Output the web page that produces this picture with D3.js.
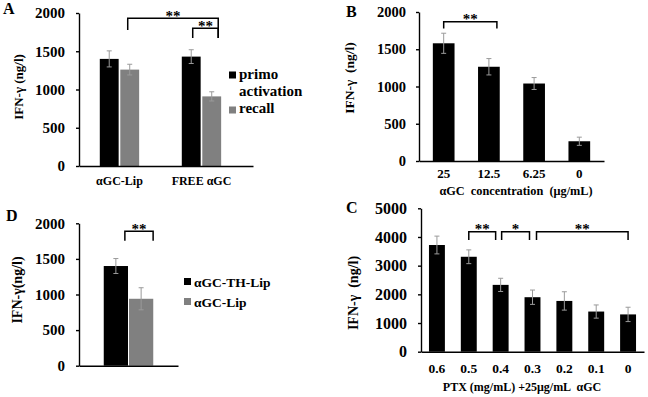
<!DOCTYPE html>
<html><head><meta charset="utf-8">
<script src="https://cdn.jsdelivr.net/npm/d3@7"></script>
<style>
body{margin:0;background:#fff}
svg{display:block}
text{font-family:'Liberation Serif','Times New Roman',serif;font-weight:bold;fill:#000}
</style>
</head><body>
<svg id="chart" width="648" height="397"></svg>
<script>
// ---------- data ----------
const aCategories = ["αGC-Lip", "FREE αGC"];
const aSeries = ["primo activation", "recall"];
const aPrimo = [1400, 1430];
const aPrimoErr = [105, 90];
const aRecall = [1260, 910];
const aRecallErr = [70, 60];

const bCategories = ["25", "12.5", "6.25", "0"];
const bValues = [1580, 1265, 1040, 265];
const bErr = [135, 110, 80, 55];

const cCategories = ["0.6", "0.5", "0.4", "0.3", "0.2", "0.1", "0"];
const cValues = [3720, 3310, 2330, 1900, 1770, 1400, 1300];
const cErr = [310, 240, 230, 250, 320, 230, 250];

const dCategories = ["αGC-TH-Lip", "αGC-Lip"];
const dValues = [1400, 940];
const dErr = [105, 155];

const yTicks2000 = [0, 500, 1000, 1500, 2000];
const yTicks5000 = [0, 1000, 2000, 3000, 4000, 5000];

// ---------- styles ----------
const BLACK = "#000000", GRAY = "#808080", ERR = "#9a9a9a";
const svg = d3.select("#chart");

function drawYAxis(g, y, ticks, fs, pad) {
  g.call(d3.axisLeft(y).tickValues(ticks).tickSize(3).tickPadding(pad)
    .tickSizeOuter(0).tickFormat(d3.format("d")));
  g.attr("font-size", fs).attr("font-family", null);
  g.select(".domain").attr("stroke", "#000").attr("stroke-width", 1.4);
  g.selectAll(".tick line").attr("stroke", "#000").attr("stroke-width", 1.4);
}
function drawXAxis(g, x, fs, off, showLabels) {
  g.call(d3.axisBottom(x).tickSize(0).tickSizeOuter(0));
  g.attr("font-size", fs).attr("font-family", null);
  g.select(".domain").attr("stroke", "#000").attr("stroke-width", 1.4);
  g.selectAll(".tick text").attr("y", off).attr("dy", 0);
  if (!showLabels) g.selectAll(".tick text").remove();
}
function errBar(g, cx, y, v, e, cap) {
  g.append("line").attr("x1", cx).attr("x2", cx).attr("y1", y(v - e)).attr("y2", y(v + e))
    .attr("stroke", ERR).attr("stroke-width", 1);
  [v - e, v + e].forEach(t => g.append("line").attr("x1", cx - cap).attr("x2", cx + cap)
    .attr("y1", y(t)).attr("y2", y(t)).attr("stroke", ERR).attr("stroke-width", 1));
}
function bracket(g, x1, x2, yTop, yL, yR, stars, sy, fs) {
  g.append("path").attr("d", `M${x1},${yL}V${yTop}H${x2}V${yR}`)
    .attr("fill", "none").attr("stroke", "#000").attr("stroke-width", 1.5);
  g.append("text").attr("x", (x1 + x2) / 2).attr("y", sy).attr("text-anchor", "middle")
    .attr("font-size", fs).text(stars);
}
function yTitle(g, x, y, fs, txt) {
  g.append("text").attr("transform", `translate(${x},${y}) rotate(-90)`)
    .attr("text-anchor", "middle").attr("font-size", fs).style("white-space", "pre").text(txt);
}
function letter(g, x, y, t) {
  g.append("text").attr("x", x).attr("y", y).attr("font-size", 16).text(t);
}

// ---------- Panel A ----------
{
  const g = svg.append("g");
  const x0 = d3.scaleBand().domain(aCategories).range([79, 253])
    .paddingInner(0.52).paddingOuter(0.321).align(0.395);
  const x1 = d3.scaleBand().domain(aSeries).range([0, x0.bandwidth()]).paddingInner(0.08);
  const y = d3.scaleLinear().domain([0, 2000]).range([166, 13]);
  const rows = aCategories.map((c, i) => [
    { c, s: aSeries[0], v: aPrimo[i], e: aPrimoErr[i], col: BLACK },
    { c, s: aSeries[1], v: aRecall[i], e: aRecallErr[i], col: GRAY }
  ]).flat();
  g.selectAll("rect.bar").data(rows).join("rect").attr("class", "bar")
    .attr("x", d => x0(d.c) + x1(d.s)).attr("width", x1.bandwidth())
    .attr("y", d => y(d.v)).attr("height", d => y(0) - y(d.v)).attr("fill", d => d.col);
  rows.forEach(d => errBar(g, x0(d.c) + x1(d.s) + x1.bandwidth() / 2, y, d.v, d.e, 2.5));
  drawXAxis(g.append("g").attr("transform", `translate(0,${y(0)})`), x0, 12, 19, true);
  drawYAxis(g.append("g").attr("transform", `translate(79,0)`), y, yTicks2000, 15, 11);
  yTitle(g, 23, 87, 13, "IFN-γ (ng/l)");
  letter(g, 3, 14, "A");
  const cen = (c, s) => x0(c) + x1(s) + x1.bandwidth() / 2;
  bracket(g, cen(aCategories[0], aSeries[1]) - 2, cen(aCategories[1], aSeries[1]) + 6.5, 18.3, 30, 38, "**", 21, 15);
  bracket(g, cen(aCategories[1], aSeries[0]) + 1.5, cen(aCategories[1], aSeries[1]) + 6.5, 28.3, 38, 38, "**", 31, 15);
  // legend
  const lg = g.append("g");
  const lys = [71.5, 106.5];
  aSeries.forEach((s, i) => {
    lg.append("rect").attr("x", 229).attr("y", lys[i]).attr("width", 7).attr("height", 7)
      .attr("fill", i === 0 ? BLACK : GRAY);
  });
  const t1 = lg.append("text").attr("x", 239).attr("y", 78.5).attr("font-size", 15);
  aSeries[0].split(" ").forEach((w, k) => t1.append("tspan").attr("x", 239).attr("dy", k ? 17 : 0).text(w));
  lg.append("text").attr("x", 239).attr("y", 113).attr("font-size", 15).text(aSeries[1]);
}

// ---------- Panel B ----------
{
  const g = svg.append("g");
  const x = d3.scaleBand().domain(bCategories).range([419, 604]).paddingInner(0.52).paddingOuter(0.306);
  const y = d3.scaleLinear().domain([0, 2000]).range([161, 12]);
  g.selectAll("rect").data(bCategories).join("rect")
    .attr("x", d => x(d)).attr("width", x.bandwidth())
    .attr("y", (d, i) => y(bValues[i])).attr("height", (d, i) => y(0) - y(bValues[i])).attr("fill", BLACK);
  bCategories.forEach((c, i) => errBar(g, x(c) + x.bandwidth() / 2, y, bValues[i], bErr[i], 2.5));
  drawXAxis(g.append("g").attr("transform", `translate(0,${y(0)})`), x, 13, 17, true);
  drawYAxis(g.append("g").attr("transform", `translate(419,0)`), y, yTicks2000, 14.5, 10);
  g.append("text").attr("x", 516).attr("y", 194.5).attr("text-anchor", "middle").attr("font-size", 12.3)
    .style("white-space", "pre").text("αGC  concentration  (μg/mL)");
  yTitle(g, 354, 78, 13.5, "IFN-γ  (ng/l)");
  letter(g, 346, 17, "B");
  const cen = c => x(c) + x.bandwidth() / 2;
  bracket(g, cen(bCategories[0]), cen(bCategories[1]) + 8, 21.7, 28.5, 28.5, "**", 24, 15);
}

// ---------- Panel C ----------
{
  const g = svg.append("g");
  const x = d3.scaleBand().domain(cCategories).range([421, 644]).paddingInner(0.5).paddingOuter(0.25);
  const y = d3.scaleLinear().domain([0, 5000]).range([351.7, 208.3]);
  g.selectAll("rect").data(cCategories).join("rect")
    .attr("x", d => x(d)).attr("width", x.bandwidth())
    .attr("y", (d, i) => y(cValues[i])).attr("height", (d, i) => y(0) - y(cValues[i])).attr("fill", BLACK);
  cCategories.forEach((c, i) => errBar(g, x(c) + x.bandwidth() / 2, y, cValues[i], cErr[i], 2.5));
  drawXAxis(g.append("g").attr("transform", `translate(0,${y(0)})`), x, 13.5, 21, true);
  drawYAxis(g.append("g").attr("transform", `translate(421,0)`), y, yTicks5000, 16, 11);
  g.append("text").attr("x", 522).attr("y", 391).attr("text-anchor", "middle").attr("font-size", 12)
    .style("white-space", "pre").text("PTX (mg/mL) +25μg/mL  αGC");
  yTitle(g, 358, 293, 14, "IFN-γ  (ng/l)");
  letter(g, 346, 213, "C");
  const cen = c => x(c) + x.bandwidth() / 2;
  bracket(g, cen(cCategories[1]), cen(cCategories[2]) - 5, 231.7, 240, 240, "**", 234, 15);
  bracket(g, cen(cCategories[2]) + 1, cen(cCategories[3]) - 3, 231.7, 240, 240, "*", 234, 15);
  bracket(g, cen(cCategories[3]) + 4, cen(cCategories[6]), 231.7, 240, 240, "**", 234, 15);
}

// ---------- Panel D ----------
{
  const g = svg.append("g");
  const x = d3.scaleBand().domain(dCategories).range([79, 178]).paddingInner(0.04).paddingOuter(0.98);
  const y = d3.scaleLinear().domain([0, 2000]).range([365.7, 223.3]);
  g.selectAll("rect").data(dCategories).join("rect")
    .attr("x", d => x(d)).attr("width", x.bandwidth())
    .attr("y", (d, i) => y(dValues[i])).attr("height", (d, i) => y(0) - y(dValues[i]))
    .attr("fill", (d, i) => i === 0 ? BLACK : GRAY);
  dCategories.forEach((c, i) => errBar(g, x(c) + x.bandwidth() / 2, y, dValues[i], dErr[i], 2.5));
  drawXAxis(g.append("g").attr("transform", `translate(0,${y(0)})`), x, 12, 19, false);
  drawYAxis(g.append("g").attr("transform", `translate(79,0)`), y, yTicks2000, 15, 11);
  yTitle(g, 22, 290, 14, "IFN-γ(ng/l)");
  letter(g, 6, 221, "D");
  const cen = c => x(c) + x.bandwidth() / 2;
  bracket(g, cen(dCategories[0]) + 9, cen(dCategories[1]) + 12, 231.3, 240.7, 240.7, "**", 233.5, 15);
  const lys = [278, 298];
  dCategories.forEach((c, i) => {
    g.append("rect").attr("x", 184).attr("y", lys[i]).attr("width", 7).attr("height", 7)
      .attr("fill", i === 0 ? BLACK : GRAY);
    g.append("text").attr("x", 194).attr("y", lys[i] + 8.5).attr("font-size", 13.5).text(c);
  });
}
</script>
</body></html>
